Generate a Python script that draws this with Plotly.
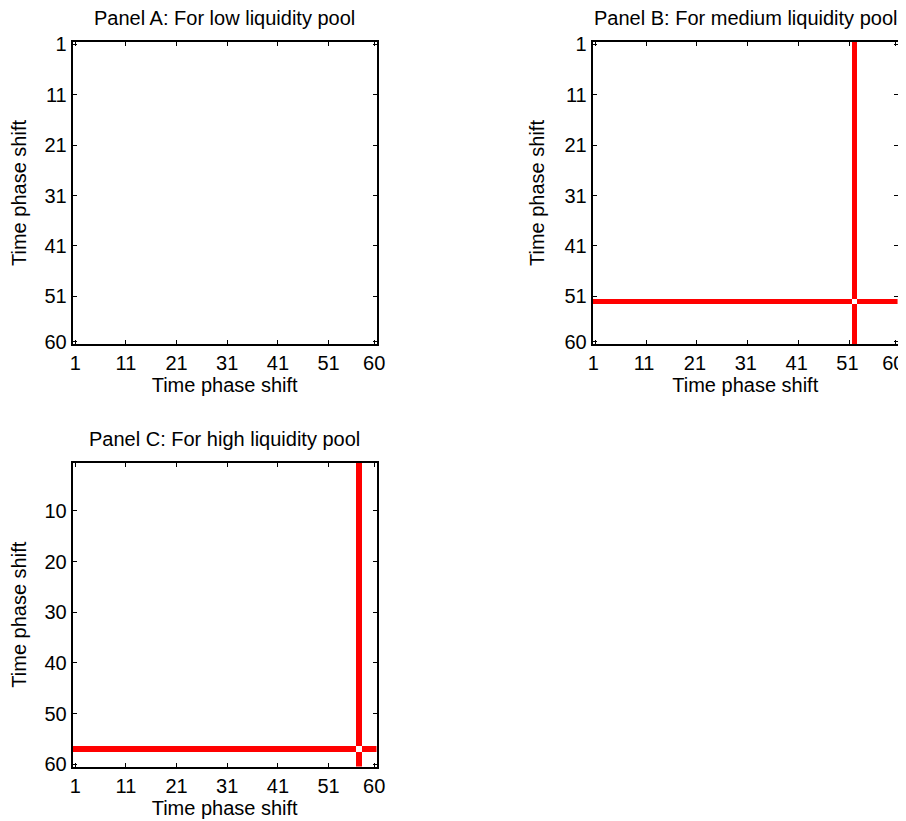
import plotly.graph_objects as go

# ---- data ----
n_shifts = 60
panel_titles = ["Panel A: For low liquidity pool",
                "Panel B: For medium liquidity pool",
                "Panel C: For high liquidity pool"]
highlight_shift = [None, 52, 57]          # row/column flagged in each panel
x_tickvals = [1, 11, 21, 31, 41, 51, 60]
y_tickvals_ab = [1, 11, 21, 31, 41, 51, 60]
y_tickvals_c = [10, 20, 30, 40, 50, 60]
axis_label = "Time phase shift"

shifts = list(range(1, n_shifts + 1))


def build_matrix(h):
    z = []
    for r in shifts:
        row = []
        for c in shifts:
            if h is not None and (r == h or c == h) and not (r == h and c == h):
                row.append(1)
            else:
                row.append(0)
        z.append(row)
    return z


OFF = 8                      # page body margin
W, H = 906 - OFF, 821 - OFF
# pixel boxes of the three panels in the window (left, right, top, bottom)
boxes = [(72.7, 376.7, 41.7, 344.3),
         (592.7, 897.8, 41.7, 344.3),
         (72.7, 376.7, 462.7, 766.7)]

FONT = "Liberation Sans, Arial, sans-serif"
FS = 20
fig = go.Figure()
layout = dict(width=W, height=H, margin=dict(l=0, r=0, t=0, b=0),
              template="none",
              paper_bgcolor="white", plot_bgcolor="white",
              font=dict(family=FONT, color="black", size=FS),
              showlegend=False, annotations=[])

for i, (title, h) in enumerate(zip(panel_titles, highlight_shift)):
    sfx = "" if i == 0 else str(i + 1)
    fig.add_trace(go.Heatmap(
        z=build_matrix(h), x=shifts, y=shifts,
        colorscale=[[0, "white"], [1, "red"]], zmin=0, zmax=1,
        showscale=False, xaxis="x" + sfx, yaxis="y" + sfx, hoverinfo="skip"))
    l, r, t, b = [v - OFF for v in boxes[i]]
    ax = dict(domain=[l / W, r / W], anchor="y" + sfx, range=[0.5, n_shifts + 0.5],
              tickvals=x_tickvals, ticks="inside", ticklen=4, tickwidth=1,
              tickcolor="black", showline=True, linecolor="black", linewidth=2,
              mirror="ticks", showgrid=False, zeroline=False, automargin=False,
              ticklabeloverflow="allow", ticklabelshift=(-2 if i == 1 else 0),
              title=dict(text=axis_label, standoff=4, font=dict(size=FS)),
              tickfont=dict(size=FS))
    ay = dict(domain=[1 - b / H, 1 - t / H], anchor="x" + sfx,
              range=[n_shifts + 0.5, 0.5],
              tickvals=y_tickvals_c if i == 2 else y_tickvals_ab,
              ticks="inside", ticklen=4, tickwidth=1, tickcolor="black",
              showline=True, linecolor="black", linewidth=2, mirror="ticks",
              showgrid=False, zeroline=False, automargin=False,
              title=dict(text=axis_label, standoff=14, font=dict(size=FS)),
              tickfont=dict(size=FS))
    layout["xaxis" + sfx] = ax
    layout["yaxis" + sfx] = ay
    layout["annotations"].append(dict(
        text=title, xref="paper", yref="paper", x=(l + r) / 2 / W,
        y=1 - (t - 24) / H, xanchor="center", yanchor="middle",
        showarrow=False, font=dict(size=FS, family=FONT, color="black")))

fig.update_layout(**layout)
fig.write_html("out.html")
